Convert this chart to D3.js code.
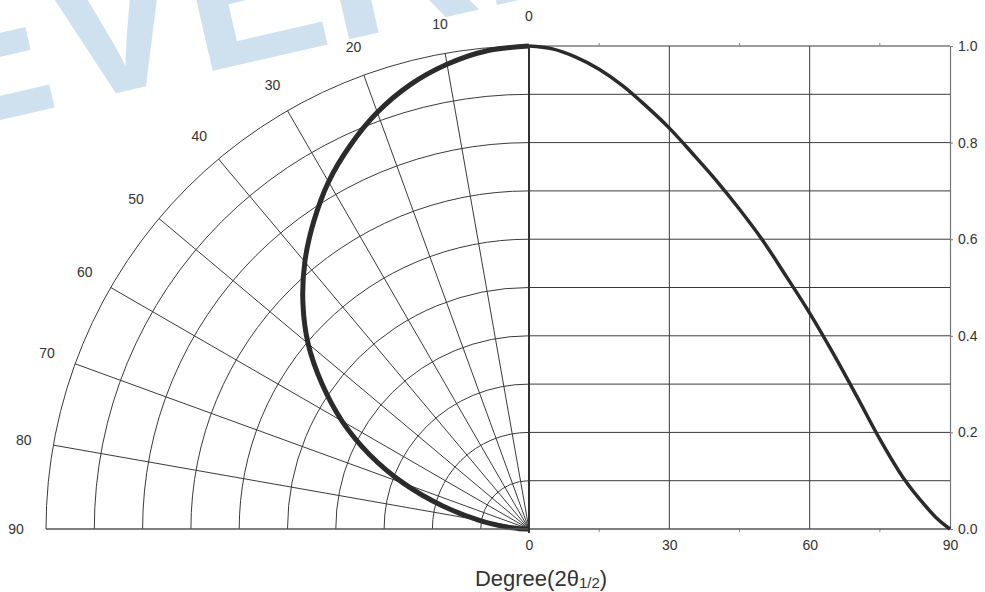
<!DOCTYPE html>
<html>
<head>
<meta charset="utf-8">
<script src="https://cdn.jsdelivr.net/npm/d3@7"></script>
<style>
body { margin:0; background:#fff; }
text { font-family: "Liberation Sans", Arial, sans-serif; }
</style>
</head>
<body>
<div id="chart"></div>
<script>
// relative intensity vs angle
var angles    = [0, 5, 10, 15, 20, 25, 30, 35, 40, 45, 50, 55, 60, 65, 70, 75, 80, 85, 87, 90]
var intensity = [1.0, 0.994, 0.977, 0.952, 0.918, 0.876, 0.830, 0.777, 0.722, 0.662, 0.597, 0.523, 0.447, 0.364, 0.276, 0.186, 0.106, 0.045, 0.024, 0.0]

// axes / grid
var polarTicks  = [0, 10, 20, 30, 40, 50, 60, 70, 80, 90]
var ringLevels  = [0.1, 0.2, 0.3, 0.4, 0.5, 0.6, 0.7, 0.8, 0.9, 1.0]
var xTicks      = [0, 30, 60, 90]
var xMinorTicks = [15, 45, 75]
var yTicks      = [0, 0.2, 0.4, 0.6, 0.8, 1.0]

var width = 985, height = 592
var cx = 529, cy = 529, R = 483
var gridColor = '#3a3a3a'

var svg = d3.select('#chart').append('svg')
	.attr('width', width)
	.attr('height', height)

var x = d3.scaleLinear().domain([0, 90]).range([cx, 950])
var y = d3.scaleLinear().domain([0, 1]).range([cy, cy - R])
var r = d3.scaleLinear().domain([0, 1]).range([0, R])
var rad = function(deg) { return deg * Math.PI / 180 }

var data = angles.map(function(a, i) { return {angle:a, value:intensity[i]} })

// watermark
svg.append('text')
	.text('EVERLIGHT')
	.attr('transform', 'translate(-74,137) rotate(-13)')
	.style('font-size', '210px')
	.style('font-weight', 'bold')
	.style('fill', '#cfe1ef')

// ---- polar part (left)
var polar = svg.append('g').attr('transform', 'translate(' + cx + ',' + cy + ')')

polar.selectAll('.ring').data(ringLevels).enter().append('path')
	.attr('class', 'ring')
	.attr('d', function(v) {
		var p = d3.path()
		p.moveTo(-r(v), 0)
		p.arc(0, 0, r(v), Math.PI, 1.5 * Math.PI)
		return p.toString()
	})
	.style('fill', 'none')
	.style('stroke', gridColor)
	.style('stroke-width', 1)

polar.selectAll('.spoke').data(polarTicks.slice(1, -1)).enter().append('line')
	.attr('class', 'spoke')
	.attr('x1', 0).attr('y1', 0)
	.attr('x2', function(d) { return -r(1) * Math.sin(rad(d)) })
	.attr('y2', function(d) { return -r(1) * Math.cos(rad(d)) })
	.style('stroke', gridColor)
	.style('stroke-width', 1)

polar.selectAll('.plabel').data(polarTicks).enter().append('text')
	.attr('class', 'plabel')
	.attr('x', function(d) { return -(R + 30) * Math.sin(rad(d)) })
	.attr('y', function(d) { return -(R + 30) * Math.cos(rad(d)) })
	.attr('dy', '0.35em')
	.attr('text-anchor', 'middle')
	.style('font-size', '14px')
	.style('fill', '#333')
	.text(function(d) { return d })

// ---- cartesian part (right)
svg.selectAll('.hgrid').data(ringLevels).enter().append('line')
	.attr('class', 'hgrid')
	.attr('x1', x(0)).attr('x2', x(90))
	.attr('y1', function(d) { return y(d) }).attr('y2', function(d) { return y(d) })
	.style('stroke', gridColor)
	.style('stroke-width', 1)

svg.selectAll('.vgrid').data([30, 60]).enter().append('line')
	.attr('class', 'vgrid')
	.attr('x1', function(d) { return x(d) }).attr('x2', function(d) { return x(d) })
	.attr('y1', y(0)).attr('y2', y(1))
	.style('stroke', gridColor)
	.style('stroke-width', 1)

// minor ticks at bottom and top
svg.selectAll('.minor').data(xMinorTicks.concat(xMinorTicks)).enter().append('line')
	.attr('class', 'minor')
	.attr('x1', function(d) { return x(d) }).attr('x2', function(d) { return x(d) })
	.attr('y1', function(d, i) { return i < 3 ? y(0) : y(1) })
	.attr('y2', function(d, i) { return i < 3 ? y(0) + 3 : y(1) - 3 })
	.style('stroke', '#888')
	.style('stroke-width', 1)

// baseline over both halves
svg.append('line')
	.attr('x1', cx - R).attr('x2', x(90))
	.attr('y1', y(0)).attr('y2', y(0))
	.style('stroke', '#555')
	.style('stroke-width', 1.5)

// right axis
var yAxis = svg.append('g')
	.attr('transform', 'translate(' + x(90) + ',0)')
	.call(d3.axisRight(y).tickValues(yTicks).tickFormat(d3.format('.1f')).tickSizeInner(3).tickSizeOuter(0).tickPadding(5))
yAxis.select('.domain').style('stroke', '#777').style('stroke-width', 1.2)
yAxis.selectAll('line').style('stroke', '#777')
yAxis.selectAll('text').style('font-size', '14px').style('fill', '#333').style('font-family', '"Liberation Sans", Arial, sans-serif')

// bottom axis labels
var xAxis = svg.append('g')
	.attr('transform', 'translate(0,' + y(0) + ')')
	.call(d3.axisBottom(x).tickValues(xTicks).tickSize(0).tickPadding(11))
xAxis.select('.domain').remove()
xAxis.selectAll('text').style('font-size', '14px').style('fill', '#333').style('font-family', '"Liberation Sans", Arial, sans-serif')

// zero axis (vertical)
svg.append('line')
	.attr('x1', x(0)).attr('x2', x(0))
	.attr('y1', y(1)).attr('y2', y(0) + 4)
	.style('stroke', '#333')
	.style('stroke-width', 2)

// ---- curves
var lineCart = d3.line()
	.x(function(d) { return x(d.angle) })
	.y(function(d) { return y(d.value) })
	.curve(d3.curveMonotoneX)

svg.append('path').datum(data)
	.attr('d', lineCart)
	.style('fill', 'none')
	.style('stroke', '#2b2b2b')
	.style('stroke-width', 3.5)

var linePolar = d3.lineRadial()
	.angle(function(d) { return -rad(d.angle) })
	.radius(function(d) { return r(d.value) })
	.curve(d3.curveCatmullRom)

polar.append('path').datum(data)
	.attr('d', linePolar)
	.style('fill', 'none')
	.style('stroke', '#2b2b2b')
	.style('stroke-width', 5)
	.style('stroke-linejoin', 'round')

// axis title
var title = svg.append('text')
	.attr('x', 541).attr('y', 586)
	.attr('text-anchor', 'middle')
	.style('font-size', '22px')
	.style('fill', '#333')
title.append('tspan').text('Degree(2θ')
title.append('tspan').text('1/2').style('font-size', '15px').attr('dy', 2)
title.append('tspan').text(')').attr('dy', -2)
</script>
</body>
</html>
